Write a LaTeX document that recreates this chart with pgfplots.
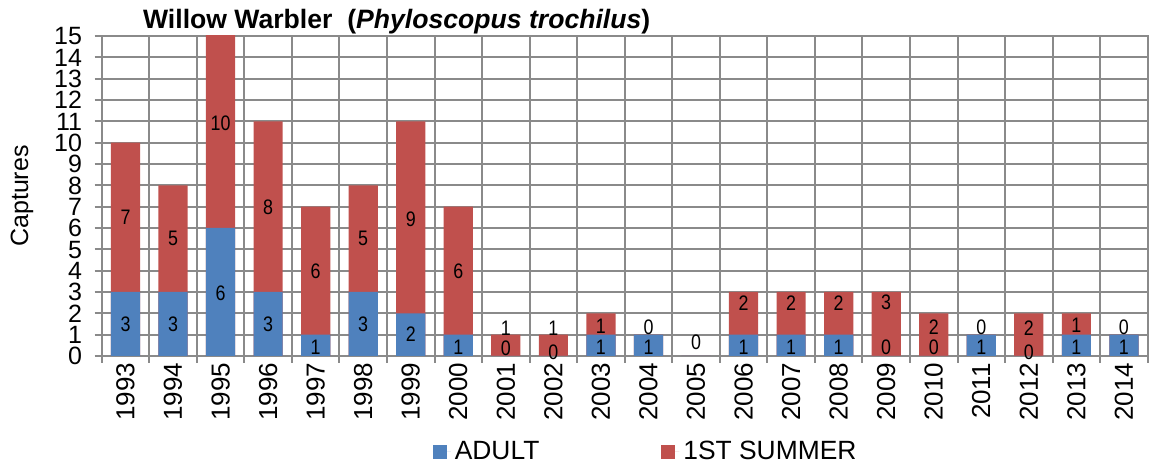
\documentclass[border=0pt]{standalone}
\usepackage{pgfplots}
\pgfplotsset{compat=1.18}
\usepackage{pgfplotstable}
\usepackage{fontspec}
\setmainfont{Liberation Sans}
\usepackage{graphicx}
\definecolor{adultblue}{HTML}{4F81BD}
\definecolor{summerred}{HTML}{C0504D}
\definecolor{gridgray}{HTML}{8A8A8A}

% x = category index (0 = 1993), adult, total (adult + 1st summer)
\pgfplotstableread{
x adult summer total
0  3 7  10
1  3 5  8
2  6 10 16
3  3 8  11
4  1 6  7
5  3 5  8
6  2 9  11
7  1 6  7
8  0 1  1
9  0 1  1
10 1 1  2
11 1 0  1
12 0 0  0
13 1 2  3
14 1 2  3
15 1 2  3
16 0 3  3
17 0 2  2
18 1 0  1
19 0 2  2
20 1 1  2
21 1 0  1
}\bars

% data label positions
\pgfplotstableread{
x y lab
0  1.5  3
1  1.5  3
2  2.95 6
3  1.5  3
4  0.42 1
5  1.5  3
6  1.0  2
7  0.42 1
8  0.38 0
9  0.19 0
10 0.40 1
11 0.40 1
12 0.66 0
13 0.40 1
14 0.40 1
15 0.40 1
16 0.40 0
17 0.40 0
18 0.40 1
19 0.19 0
20 0.40 1
21 0.40 1
0  6.5  7
1  5.5  5
2  10.9 10
3  6.95 8
4  3.95 6
5  5.5  5
6  6.4  9
7  3.95 6
8  1.31 1
9  1.31 1
10 1.40 1
11 1.36 0
13 2.48 2
14 2.48 2
15 2.48 2
16 2.52 3
17 1.36 2
18 1.36 0
19 1.31 2
20 1.45 1
21 1.36 0
}\labels

\begin{document}
\begin{tikzpicture}
\useasboundingbox (-50.85pt,-54pt) rectangle (525.65pt,178pt);
\begin{axis}[
  at={(0pt,0pt)}, anchor=south west,
  scale only axis, width=523pt, height=160pt,
  xmin=-0.5, xmax=21.5, ymin=0, ymax=15,
  ytick={0,1,...,15},
  xtick={-0.5,0.5,...,21.5}, xticklabels={},
  extra x ticks={0,1,...,21},
  extra x tick labels={1993,1994,1995,1996,1997,1998,1999,2000,2001,2002,2003,2004,2005,2006,2007,2008,2009,2010,2011,2012,2013,2014},
  extra x tick style={grid=none, major tick length=0pt},
  grid=major,
  grid style={gridgray, line width=1pt},
  axis line style={gridgray, line width=1pt},
  tick style={gridgray, line width=1pt},
  tick align=outside, major tick length=3.5pt,
  xtick pos=bottom, ytick pos=left,
  /pgf/number format/assume math mode=true,
  y tick label style={font=\fontsize{12.5}{12.5}\selectfont, xshift=-2.8pt,
    text height=8.9pt, text depth=0pt, inner ysep=0pt},
  x tick label style={font=\fontsize{13}{13}\selectfont, rotate=90, anchor=east},
  ylabel={Captures},
  ylabel style={at={(axis description cs:-0.0762,0.5)}, anchor=center, font=\fontsize{12.5}{12.5}\selectfont},
  title={\textbf{Willow Warbler\ \ (\textit{Phyloscopus trochilus})}},
  title style={at={(axis description cs:0.282,1.044)}, anchor=center, yshift=-6pt, font=\fontsize{13.3}{15}\selectfont},
  legend columns=2,
  legend style={at={(axis description cs:0.521,-0.3)}, anchor=center, draw=none, fill=none,
    font=\fontsize{13.2}{13.2}\selectfont,
    /tikz/every even column/.append style={column sep=59pt}},
  legend image code/.code={\fill[#1] (0pt,-3.5pt) rectangle (7pt,3.5pt); \path (0pt,0pt) -- (9pt,0pt);},
]
\addlegendimage{fill=adultblue, draw=none}
\addlegendentry{ADULT}
\addlegendimage{fill=summerred, draw=none}
\addlegendentry{1ST SUMMER}

\addplot[ybar, bar width=14.6pt, bar shift=0pt, fill=summerred, draw=none, forget plot]
  table[x=x, y=total] {\bars};
\addplot[ybar, bar width=14.6pt, bar shift=0pt, fill=adultblue, draw=none, forget plot]
  table[x=x, y=adult] {\bars};

\addplot[draw=none, mark=none, forget plot,
  point meta=explicit symbolic,
  nodes near coords={\scalebox{0.85}[1]{\pgfplotspointmeta}},
  nodes near coords align={anchor=center},
  every node near coord/.append style={font=\fontsize{10.5}{10.5}\selectfont, inner sep=0pt, anchor=center}]
  table[x=x, y=y, meta=lab] {\labels};
\end{axis}
\end{tikzpicture}
\end{document}
